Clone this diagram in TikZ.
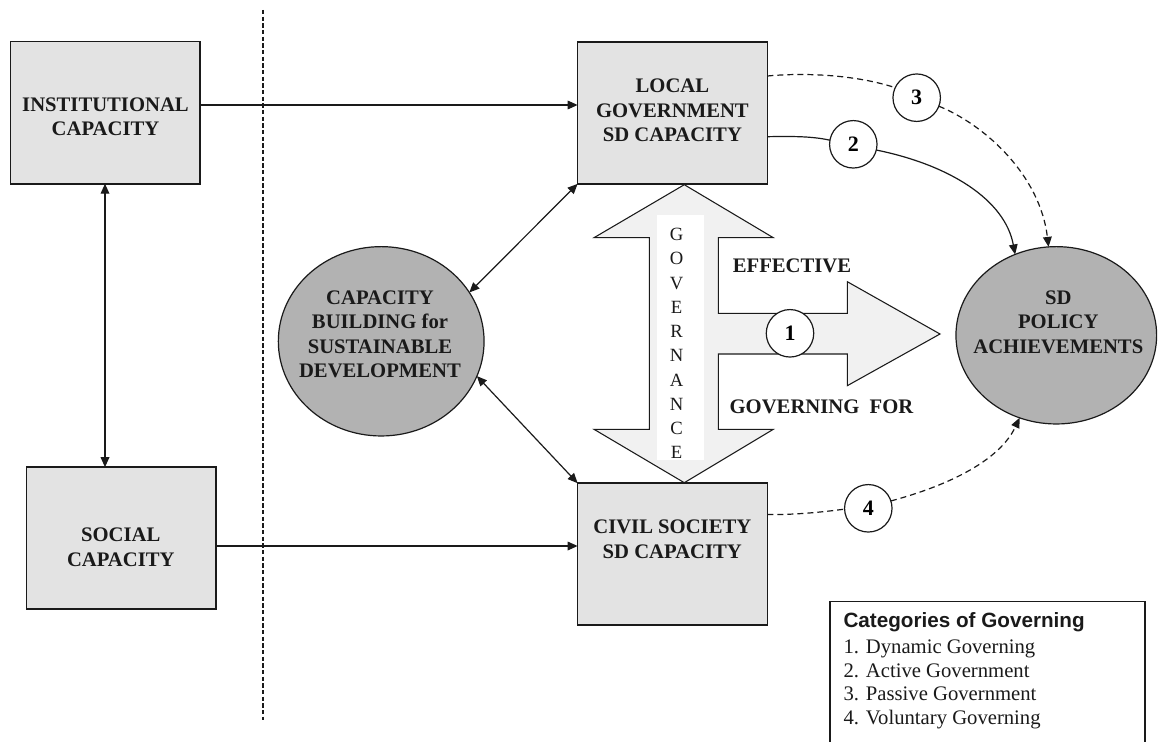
\documentclass[tikz,border=0pt]{standalone}
\usepackage{fontspec}
\setmainfont{Liberation Serif}
\newfontfamily\legendsans{Liberation Sans}
\usetikzlibrary{arrows.meta,shapes.geometric}

\definecolor{boxgrey}{HTML}{E3E3E3}
\definecolor{discgrey}{HTML}{B2B2B2}
\definecolor{arrowgrey}{HTML}{F1F1F1}
\definecolor{ink}{HTML}{1A1A1A}

\tikzset{
  capbox/.style={draw=ink, line width=1.2pt, fill=boxgrey, rectangle,
    minimum width=142.3pt, minimum height=106.5pt, inner sep=0pt, outer sep=0pt},
  disc/.style={draw=ink, line width=0.9pt, fill=discgrey, ellipse,
    inner sep=0pt, outer sep=0pt},
  boldlabel/.style={font=\bfseries\fontsize{15.5}{18.4}\selectfont,
    align=center, text=ink, inner sep=0pt},
  numdisc/.style={draw=ink, line width=0.9pt, fill=white, circle,
    minimum size=35.6pt, inner sep=0pt, outer sep=0pt,
    font=\bfseries\fontsize{16.5}{18}\selectfont},
  link/.style={draw=ink, line width=0.9pt},
  headend/.style={-{Triangle[length=7.5pt,width=6.5pt]}},
  headboth/.style={{Triangle[length=7.5pt,width=6.5pt]}-{Triangle[length=7.5pt,width=6.5pt]}},
  dashlink/.style={link, dash pattern=on 4.5pt off 3pt},
  legendline/.style={anchor=base west, inner sep=0pt,
    font=\fontsize{15.5}{18}\selectfont, text=ink},
}

\begin{document}
\begin{tikzpicture}[x=0.75pt,y=-0.75pt]
\useasboundingbox (0,0) rectangle (1161,742);
\fill[white] (0,0) rectangle (1161,742);

% dashed separator between the two columns
\coordinate (septop) at (263,10);
\coordinate (sepbot) at (263,720);
\draw[ink, line width=0.8pt, dash pattern=on 3.2pt off 1.8pt] (septop) -- (sepbot);

% governance: double vertical arrow with a branch to the right
\draw[ink, line width=0.8pt, fill=arrowgrey, line join=miter]
  (684.3,184.7) -- (773.3,237.7) -- (718.3,237.7) -- (718.3,313.3)
  -- (847.3,313.3) -- (847.3,281.7) -- (940,334) -- (847.3,385.7)
  -- (847.3,354) -- (718.3,354) -- (718.3,429.3) -- (773.3,429.3)
  -- (684.3,482.7) -- (594,429.3) -- (649.3,429.3) -- (649.3,237.7)
  -- (594,237.7) -- cycle;
\fill[white] (656.7,215) rectangle (704,460);
\node[font=\fontsize{14}{18.2}\selectfont, align=center, inner sep=0pt, text=ink]
  (gov) at (676.5,343.5) {G\\O\\V\\E\\R\\N\\A\\N\\C\\E};
\node[boldlabel] (effective) at (792,266) {EFFECTIVE};
\node[boldlabel] (governfor) at (821.5,407.2) {GOVERNING~~FOR};

% capacity boxes
\node[capbox] (inst) at (105.35,112.7) {};
\node[capbox] (loc)  at (672.5,112.85) {};
\node[capbox] (soc)  at (121.2,538.2) {};
\node[capbox] (civ)  at (672.5,554.2) {};
\node[boldlabel] (insttext) at (105.5,116.7) {INSTITUTIONAL\\CAPACITY};
\node[boldlabel] (loctext)  at (672.4,110.3) {LOCAL\\GOVERNMENT\\SD CAPACITY};
\node[boldlabel] (soctext)  at (120.8,547.5) {SOCIAL\\CAPACITY};
\node[boldlabel] (civtext)  at (672.3,539.2) {CIVIL SOCIETY\\SD CAPACITY};

% central and target discs
\node[disc, minimum width=154.3pt, minimum height=142pt] (cb) at (381.2,341.3) {};
\node[disc, minimum width=150.5pt, minimum height=133pt] (sd) at (1056.3,335.3) {};
\node[boldlabel] (cbtext) at (380,334.2) {CAPACITY\\BUILDING for\\SUSTAINABLE\\DEVELOPMENT};
\node[boldlabel] (sdtext) at (1058.3,322.2) {SD\\POLICY\\ACHIEVEMENTS};

% numbered governing categories
\node[numdisc] (c1) at (790,333.3) {1};
\node[numdisc] (c2) at (853.3,144.3) {2};
\node[numdisc] (c3) at (916.7,97.7) {3};
\node[numdisc] (c4) at (868.3,508.3) {4};

% straight links
\draw[link, headend] (inst.east |- 0,105) -- (loc.west |- 0,105);
\draw[link, headboth] (inst.south -| 105,0) -- (soc.north -| 105,0);
\draw[link, headend] (soc.east |- 0,546) -- (civ.west |- 0,546);
\draw[link, headboth] (cb.29) -- (loc.south west);
\draw[link, headboth] (cb.-20) -- (civ.north west);

% category 2: active government
\draw[link] (loc.east |- 0,136.7) .. controls (800,136) and (815,137) .. (c2.170);
\draw[link, headend] (c2.-14) .. controls (950,165) and (1005,200) .. (sd.117);

% category 3: passive government
\draw[dashlink] (loc.east |- 0,76) .. controls (810,72) and (860,76) .. (c3.155);
\draw[dashlink, headend] (c3.-21) .. controls (985,125) and (1040,175) .. (sd.95);

% category 4: voluntary governing
\draw[dashlink] (civ.east |- 0,514.5) .. controls (800,515) and (830,511) .. (c4.182);
\draw[dashlink, headend] (c4.18) .. controls (950,485) and (1000,460) .. (sd.-114);

% legend
\coordinate (lgbl) at (830,746);
\coordinate (lgtl) at (830,601.7);
\coordinate (lgtr) at (1145,601.7);
\coordinate (lgbr) at (1145,746);
\draw[ink, line width=1pt] (lgbl) -- (lgtl) -- (lgtr) -- (lgbr);
\node[legendline, font=\legendsans\bfseries\fontsize{15.5}{18}\selectfont]
  (lghead) at (843.3,627.3) {Categories of Governing};
\node[legendline] (lg1) at (843.3,653.3) {1. Dynamic Governing};
\node[legendline] (lg2) at (843.3,677) {2. Active Government};
\node[legendline] (lg3) at (843.3,700.5) {3. Passive Government};
\node[legendline] (lg4) at (843.3,724) {4. Voluntary Governing};
\end{tikzpicture}
\end{document}
